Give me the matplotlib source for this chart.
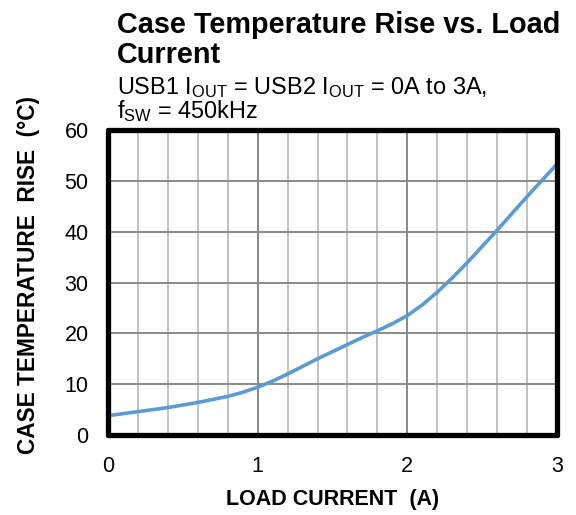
import matplotlib
matplotlib.use("Agg")
import matplotlib.pyplot as plt
import numpy as np

plt.rcParams["font.family"] = ["Liberation Sans", "DejaVu Sans"]
plt.rcParams["mathtext.fontset"] = "custom"
plt.rcParams["mathtext.rm"] = "Liberation Sans"
plt.rcParams["mathtext.it"] = "Liberation Sans:italic"

# data (every 0.1 A)
load_current = [0.0, 0.1, 0.2, 0.3, 0.4, 0.5, 0.6, 0.7, 0.8, 0.9, 1.0,
                1.1, 1.2, 1.3, 1.4, 1.5, 1.6, 1.7, 1.8, 1.9, 2.0,
                2.1, 2.2, 2.3, 2.4, 2.5, 2.6, 2.7, 2.8, 2.9, 3.0]
temp_rise = [3.8, 4.2, 4.6, 5.0, 5.4, 5.9, 6.4, 7.0, 7.6, 8.4, 9.4,
             10.6, 12.0, 13.5, 15.0, 16.4, 17.8, 19.2, 20.5, 21.9, 23.5,
             25.6, 28.1, 30.9, 33.9, 37.1, 40.3, 43.6, 46.9, 50.1, 53.3]

x_major = [0, 1, 2, 3]
x_minor = np.arange(0, 3.01, 0.2)
y_major = [0, 10, 20, 30, 40, 50, 60]

title_lines = ["Case Temperature Rise vs. Load", "Current"]
subtitle_lines = ["USB1 I$_{\\mathrm{OUT}}$ = USB2 I$_{\\mathrm{OUT}}$ = 0A to 3A,",
                  "f$_{\\mathrm{SW}}$ = 450kHz"]

fig = plt.figure(figsize=(5.76, 5.15), dpi=100)
ax = fig.add_axes([0.1875, 0.1553, 0.7795, 0.5923])

# grid: light minor verticals, darker integer verticals and horizontals
for xv in x_minor:
    ax.axvline(xv, color="#c2c2c2", linewidth=1.4, zorder=1)
for xv in x_major:
    ax.axvline(xv, color="#8a8a8a", linewidth=1.4, zorder=1)
for yv in y_major:
    ax.axhline(yv, color="#8a8a8a", linewidth=1.4, zorder=1)

ax.plot(load_current, temp_rise, color="#5b9bd5", linewidth=2.6,
        solid_capstyle="round", solid_joinstyle="round", zorder=3)

ax.set_xlim(0, 3)
ax.set_ylim(0, 60)
ax.set_xticks(x_major)
ax.set_yticks(y_major)
ax.tick_params(length=0, labelsize=15.5, pad=14)
ax.tick_params(axis="x", pad=15)

for sp in ax.spines.values():
    sp.set_linewidth(3.8)
    sp.set_color("black")
    sp.set_joinstyle("round")
    sp.set_capstyle("round")
    sp.set_zorder(4)

ax.set_xlabel("LOAD CURRENT  (A)", fontsize=15.5, fontweight="bold", labelpad=9)
ax.set_ylabel("CASE TEMPERATURE  RISE  (°C)", fontsize=16.3, fontweight="bold")
ax.yaxis.set_label_coords(-0.152, 0.525)

x0 = 117 / 576
for ln, ypx in zip(title_lines, [33, 63]):
    fig.text(x0, 1 - ypx / 515, ln, fontsize=20.8, fontweight="bold",
             ha="left", va="baseline")
for ln, ypx in zip(subtitle_lines, [94, 118]):
    fig.text(x0, 1 - ypx / 515, ln, fontsize=16.9, ha="left", va="baseline")

fig.savefig("out.png", dpi=100)
